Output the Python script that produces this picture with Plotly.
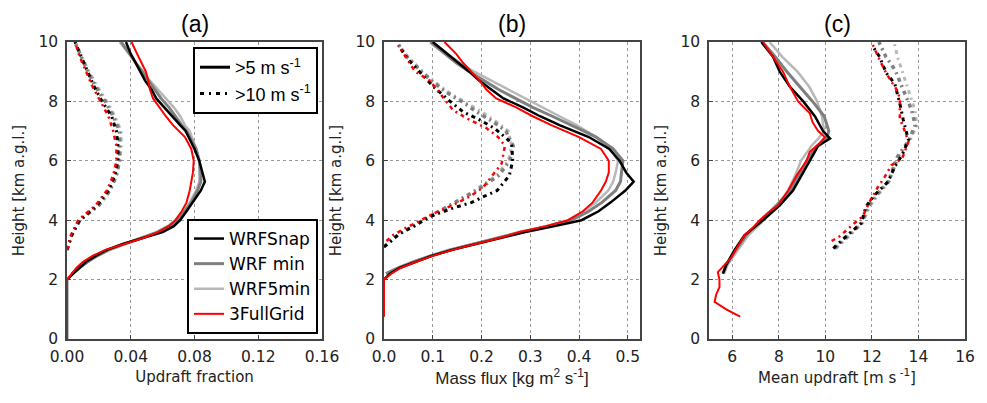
import plotly.graph_objects as go

# ---- data (heights in km, one list per curve) ----
# panel (a): updraft fraction
za_solid = [0, 2.0, 2.2, 2.4, 2.6, 2.8, 3.0, 3.2, 3.4, 3.6, 3.8, 4.0, 4.3, 4.6, 5.0, 5.3,
            5.6, 6.0, 6.4, 6.8, 7.0, 7.2, 7.5, 7.8, 8.1, 8.4, 8.7, 9.0, 9.3, 9.6, 10.0]
a_snap = [0, 0, 0.004, 0.008, 0.012, 0.018, 0.025, 0.035, 0.048, 0.060, 0.067, 0.071, 0.075,
          0.079, 0.084, 0.0865, 0.085, 0.083, 0.080, 0.076, 0.0745, 0.071, 0.066, 0.061,
          0.056, 0.053, 0.049, 0.046, 0.043, 0.040, 0.037]
a_min = [None, None, 0.003, 0.008, 0.013, 0.019, 0.026, 0.036, 0.047, 0.057, 0.064, 0.069,
         0.074, 0.078, 0.082, 0.084, 0.084, 0.083, 0.081, 0.077, 0.075, 0.072, 0.068, 0.064,
         0.059, 0.055, 0.051, 0.047, 0.043, 0.039, 0.034]
a_5min = [None, None, 0.003, 0.008, 0.013, 0.019, 0.027, 0.037, 0.047, 0.056, 0.063, 0.068,
          0.073, 0.077, 0.081, 0.083, 0.083, 0.083, 0.081, 0.078, 0.077, 0.074, 0.071, 0.067,
          0.062, 0.057, 0.052, 0.048, 0.043, 0.039, 0.033]
a_grid = [0, 0, 0.003, 0.006, 0.010, 0.016, 0.024, 0.036, 0.048, 0.057, 0.064, 0.068, 0.072,
          0.075, 0.077, 0.078, 0.079, 0.0795, 0.078, 0.074, 0.070, 0.0665, 0.062, 0.058,
          0.054, 0.052, 0.051, 0.0495, 0.047, 0.044, 0.0405]

za_dot = [3.0, 3.5, 4.0, 4.5, 5.0, 5.5, 6.0, 6.5, 7.0, 7.5, 8.0, 8.5, 9.0, 9.5, 10.0]
a_snap_d = [0.0, 0.003, 0.008, 0.019, 0.026, 0.030, 0.032, 0.032, 0.031, 0.028, 0.022, 0.017,
            0.013, 0.009, 0.005]
a_min_d = [0.0, 0.003, 0.008, 0.020, 0.027, 0.031, 0.033, 0.033, 0.033, 0.029, 0.024, 0.018,
           0.013, 0.009, 0.005]
a_5min_d = [0.0, 0.003, 0.008, 0.020, 0.027, 0.031, 0.033, 0.034, 0.034, 0.030, 0.025, 0.019,
            0.014, 0.009, 0.005]
a_grid_d = [0.0, 0.0025, 0.007, 0.018, 0.025, 0.029, 0.031, 0.031, 0.029, 0.026, 0.021, 0.016,
            0.012, 0.008, 0.005]

# panel (b): mass flux
zb_solid = [0.75, 2.0, 2.2, 2.4, 2.6, 2.8, 3.0, 3.2, 3.4, 3.6, 3.8, 4.0, 4.3, 4.6, 5.0, 5.3,
            5.6, 6.0, 6.4, 6.8, 7.0, 7.2, 7.5, 7.8, 8.1, 8.4, 8.7, 9.0, 9.3, 9.6, 10.0]
b_snap = [None, 0, 0.012, 0.033, 0.064, 0.098, 0.140, 0.190, 0.240, 0.290, 0.350, 0.405, 0.440,
          0.465, 0.495, 0.512, 0.497, 0.483, 0.462, 0.420, 0.390, 0.360, 0.320, 0.285, 0.245,
          0.220, 0.195, 0.175, 0.152, 0.130, 0.100]
b_min = [None, None, 0.004, 0.030, 0.060, 0.095, 0.135, 0.185, 0.235, 0.280, 0.340, 0.385,
         0.420, 0.447, 0.475, 0.485, 0.487, 0.490, 0.470, 0.435, 0.410, 0.385, 0.345, 0.305,
         0.270, 0.235, 0.205, 0.175, 0.148, 0.125, 0.095]
b_5min = [None, None, 0.004, 0.030, 0.060, 0.095, 0.135, 0.185, 0.235, 0.280, 0.335, 0.380,
          0.410, 0.435, 0.460, 0.470, 0.475, 0.480, 0.465, 0.435, 0.415, 0.395, 0.360, 0.325,
          0.290, 0.255, 0.220, 0.185, 0.155, 0.130, 0.100]
b_grid = [0, 0, 0.015, 0.035, 0.066, 0.100, 0.141, 0.189, 0.237, 0.278, 0.332, 0.377, 0.408,
          0.428, 0.445, 0.455, 0.461, 0.461, 0.445, 0.400, 0.370, 0.343, 0.305, 0.271, 0.230,
          0.210, 0.196, 0.179, 0.162, 0.148, 0.124]

zb_snap_d = [3.1, 3.56, 3.78, 4.12, 4.4, 4.6, 4.8, 5.0, 5.5, 6.0, 6.5, 6.7, 7.09, 7.37, 7.65,
             8.05, 8.5, 8.94, 9.4, 9.8]
b_snap_d = [0.0, 0.033, 0.060, 0.094, 0.140, 0.180, 0.205, 0.232, 0.257, 0.264, 0.262, 0.255,
            0.227, 0.197, 0.162, 0.132, 0.101, 0.077, 0.050, 0.033]
zb_gray_d = [3.1, 3.5, 4.0, 4.5, 5.0, 5.5, 6.0, 6.5, 7.0, 7.3, 7.65, 8.0, 8.3, 8.7, 9.0, 9.5, 9.9]
b_min_d = [0.0, 0.028, 0.080, 0.135, 0.190, 0.235, 0.258, 0.265, 0.250, 0.225, 0.190, 0.159,
           0.128, 0.097, 0.077, 0.047, 0.030]
b_5min_d = [0.0, 0.028, 0.080, 0.135, 0.185, 0.230, 0.255, 0.262, 0.255, 0.232, 0.200, 0.165,
            0.133, 0.100, 0.080, 0.049, 0.031]
zb_grid_d = [3.3, 3.5, 3.7, 4.0, 4.25, 4.5, 4.8, 5.1, 5.6, 5.9, 6.5, 6.8, 7.1, 7.4, 7.7, 8.2,
             8.7, 9.0, 9.5, 9.9]
b_grid_d = [0.005, 0.019, 0.040, 0.074, 0.105, 0.140, 0.176, 0.203, 0.227, 0.241, 0.248, 0.234,
            0.210, 0.173, 0.142, 0.118, 0.094, 0.064, 0.045, 0.029]

# panel (c): mean updraft
zc_grid = [0.75, 1.0, 1.25, 1.5, 1.75, 2.0, 2.25, 2.5, 2.75, 3.0, 3.25, 3.5, 3.75, 4.0, 4.25,
           4.5, 5.0, 5.5, 6.0, 6.3, 6.6, 6.8, 7.0, 7.3, 7.6, 8.0, 8.5, 9.0, 9.5, 10.0]
c_grid = [6.34, 5.74, 5.24, 5.31, 5.45, 5.45, 5.38, 5.67, 5.96, 6.14, 6.32, 6.53, 6.89, 7.18,
          7.54, 7.97, 8.40, 8.76, 9.19, 9.33, 9.76, 9.98, 9.69, 9.45, 9.33, 8.83, 8.47, 8.18,
          7.75, 7.32]
zc_solid = [2.2, 2.5, 3.0, 3.5, 4.0, 4.5, 5.0, 5.5, 6.0, 6.5, 6.75, 7.0, 7.5, 8.0, 8.5, 9.0,
            9.5, 10.0]
c_snap = [5.60, 5.74, 6.10, 6.53, 7.32, 8.04, 8.61, 8.97, 9.33, 9.69, 10.20, 9.90, 9.55, 9.05,
          8.47, 8.04, 7.75, 7.25]
c_min = [5.60, 5.75, 6.15, 6.60, 7.25, 7.90, 8.50, 8.85, 9.20, 9.65, 10.05, 10.15, 9.95, 9.45,
         8.90, 8.35, 7.85, 7.30]
c_5min = [5.65, 5.80, 6.25, 6.70, 7.35, 7.95, 8.40, 8.70, 8.95, 9.40, 9.70, 9.95, 9.85, 9.65,
          9.30, 8.80, 8.15, 7.60]

zc_snap_d = [3.05, 3.45, 3.9, 4.46, 4.85, 5.3, 5.8, 6.2, 6.7, 7.37, 7.93, 8.6, 8.95, 9.5, 9.85]
c_snap_d = [10.34, 10.88, 11.54, 11.75, 12.12, 12.70, 12.98, 13.30, 13.57, 13.35, 13.20, 12.98,
            12.62, 12.33, 12.04]
zc_gray_d = [3.05, 3.45, 3.9, 4.46, 4.85, 5.3, 5.8, 6.14, 6.7, 7.2, 7.7, 8.3, 8.6, 9.05, 9.5, 10.0]
c_min_d = [10.40, 10.95, 11.55, 11.85, 12.20, 12.70, 12.95, 13.10, 13.60, 13.86, 13.71, 13.40,
           13.25, 13.00, 12.60, 12.30]
c_5min_d = [10.45, 11.00, 11.60, 11.90, 12.25, 12.75, 13.00, 13.15, 13.65, 13.93, 13.85, 13.60,
            13.50, 13.28, 13.10, 12.95]
zc_grid_d = [3.3, 3.45, 3.9, 4.12, 4.62, 5.12, 5.46, 5.85, 6.08, 6.64, 7.14, 7.42, 8.0, 8.32,
             8.66, 9.05, 9.4, 9.9]
c_grid_d = [10.27, 10.60, 11.25, 11.60, 11.90, 12.26, 12.55, 12.84, 13.30, 13.57, 13.35, 13.20,
            13.20, 13.13, 12.84, 12.55, 12.33, 12.04]

names = ["WRFSnap", "WRF min", "WRF5min", "3FullGrid"]
colors = ["#000000", "#7f7f7f", "#b8b8b8", "#ff0000"]
widths = [2.5, 3, 2.5, 2]
DOT = "4px,4px,2px,4px"

panels = [
    # (solid heights per model, solid values, dotted heights per model, dotted values)
    ([za_solid] * 4, [a_snap, a_min, a_5min, a_grid],
     [za_dot] * 4, [a_snap_d, a_min_d, a_5min_d, a_grid_d]),
    ([zb_solid] * 4, [b_snap, b_min, b_5min, b_grid],
     [zb_snap_d, zb_gray_d, zb_gray_d, zb_grid_d], [b_snap_d, b_min_d, b_5min_d, b_grid_d]),
    ([zc_solid, zc_solid, zc_solid, zc_grid], [c_snap, c_min, c_5min, c_grid],
     [zc_snap_d, zc_gray_d, zc_gray_d, zc_grid_d], [c_snap_d, c_min_d, c_5min_d, c_grid_d]),
]

fig = go.Figure()
draw_order = [2, 1, 0, 3]
for p, (zs, vs, zd, vd) in enumerate(panels):
    xa = "x" if p == 0 else "x%d" % (p + 1)
    ya = "y" if p == 0 else "y%d" % (p + 1)
    for i in draw_order:
        fig.add_trace(go.Scatter(x=vd[i], y=zd[i], mode="lines", xaxis=xa, yaxis=ya,
                                 line=dict(color=colors[i], width=widths[i] + 0.5, dash=DOT),
                                 showlegend=False, hoverinfo="skip"))
    for i in draw_order:
        fig.add_trace(go.Scatter(x=vs[i], y=zs[i], mode="lines", xaxis=xa, yaxis=ya,
                                 line=dict(color=colors[i], width=widths[i]),
                                 name=names[i], legendrank=i + 1,
                                 showlegend=(p == 0), legend="legend"))

# line-style legend
fig.add_trace(go.Scatter(x=[None], y=[None], mode="lines", name=">5 m s<sup>-1</sup>",
                         line=dict(color="black", width=3), legend="legend2"))
fig.add_trace(go.Scatter(x=[None], y=[None], mode="lines", name=">10 m s<sup>-1</sup>",
                         line=dict(color="black", width=3, dash="4px,5px,2px,5px"),
                         legend="legend2"))

# the page body has an 8px margin, so page pixels are shifted by OFF
OFF = 8
W, H = 987 - 2 * OFF, 403 - 2 * OFF


def px(v):
    return (v - OFF) / W


def py(v):
    return 1 - (v - OFF) / H


doms = [(67, 322), (384, 640), (709, 965)]
ydom = [py(339), py(42)]
xranges = [[0, 0.16], [0, 0.525], [5, 16]]
xticks = [[0, 0.04, 0.08, 0.12, 0.16], [0, 0.1, 0.2, 0.3, 0.4, 0.5], [6, 8, 10, 12, 14, 16]]
xfmt = [".2f", ".1f", "d"]
xtitles = ["Updraft fraction", "Mass flux [kg m<sup>2</sup> s<sup>-1</sup>]",
           "Mean updraft [m s<sup> -1</sup>]"]
titles = ["(a)", "(b)", "(c)"]

axis_common = dict(showline=True, mirror=True, linecolor="#444", linewidth=1.5,
                   showgrid=True, gridcolor="#999", griddash="dot", gridwidth=1,
                   ticks="inside", ticklen=4, tickcolor="#444", zeroline=False,
                   automargin=False,
                   tickfont=dict(family="DejaVu Sans", size=15.5, color="#222"))

layout = dict(width=W, height=H, margin=dict(l=0, r=0, t=0, b=0),
              paper_bgcolor="white", plot_bgcolor="white", annotations=[])
for p in range(3):
    sx = "xaxis" if p == 0 else "xaxis%d" % (p + 1)
    sy = "yaxis" if p == 0 else "yaxis%d" % (p + 1)
    anchor_y = "y" if p == 0 else "y%d" % (p + 1)
    anchor_x = "x" if p == 0 else "x%d" % (p + 1)
    layout[sx] = dict(axis_common, domain=[px(doms[p][0]), px(doms[p][1])], anchor=anchor_y,
                      range=xranges[p], tickvals=xticks[p], tickformat=xfmt[p],
                      ticklabelstandoff=3,
                      title=dict(text=xtitles[p], standoff=6,
                                 font=dict(family="DejaVu Sans" if p != 1 else "Liberation Sans",
                                           size=15 if p != 1 else 17, color="#222")))
    layout[sy] = dict(axis_common, domain=ydom, anchor=anchor_x, range=[0, 10],
                      tickvals=[0, 2, 4, 6, 8, 10], ticklabelstandoff=4,
                      title=dict(text="Height [km a.g.l.]", standoff=10,
                                 font=dict(family="DejaVu Sans", size=15, color="#222")))
    layout["annotations"].append(dict(text=titles[p], x=px((doms[p][0] + doms[p][1]) / 2),
                                      y=py(24), xref="paper", yref="paper",
                                      xanchor="center", yanchor="middle",
                                      showarrow=False,
                                      font=dict(family="Liberation Sans", size=23, color="black")))

layout["legend"] = dict(x=px(318), xanchor="right", y=py(334), yanchor="bottom",
                        bgcolor="white", bordercolor="black", borderwidth=2,
                        font=dict(family="DejaVu Sans", size=17, color="black"),
                        tracegroupgap=0)
layout["legend2"] = dict(x=px(318), xanchor="right", y=py(47), yanchor="top",
                         bgcolor="white", bordercolor="black", borderwidth=2,
                         font=dict(family="Liberation Sans", size=18, color="black"))
fig.update_layout(layout)

fig.write_html("out.html")
